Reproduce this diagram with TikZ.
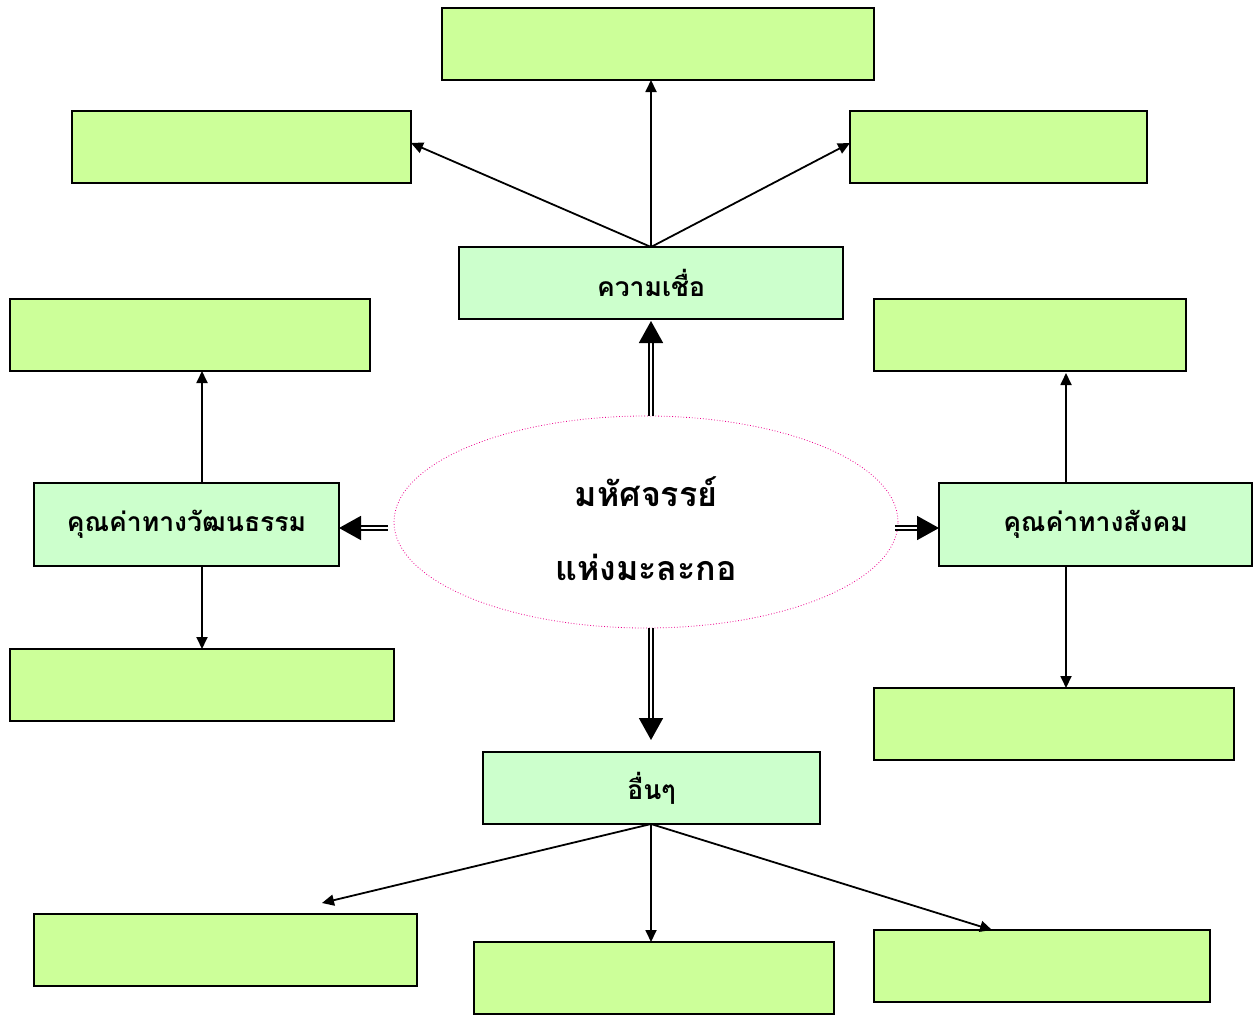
\documentclass[tikz,border=0pt]{standalone}
\usepackage{fontspec}
\usetikzlibrary{arrows.meta,shapes.geometric}
\newfontfamily\thaifont[Script=Thai]{Loma}
\definecolor{limebox}{HTML}{CCFF99}
\definecolor{mintbox}{HTML}{CCFFCC}
\tikzset{
  box/.style={draw=black, line width=1.4pt, inner sep=0pt, outer sep=0pt, minimum height=72pt},
  emptybox/.style={box, fill=limebox},
  labelbox/.style={box, fill=mintbox, font=\thaifont\bfseries\fontsize{26.5}{30}\selectfont},
  titletext/.style={font=\thaifont\bfseries\fontsize{34}{40}\selectfont, inner sep=0pt},
  arr/.style={line width=1.8pt, -{Triangle[length=12pt,width=11pt]}},
  dbl/.style={double, double distance=2pt, line width=1.7pt, -{Triangle[length=22pt,width=24pt]}},
}
\begin{document}
\begin{tikzpicture}[x=1pt,y=-1pt]
\useasboundingbox (0,0) rectangle (1258,1017);
% empty boxes
\node[emptybox, minimum width=432pt] (top) at (658,44) {};
\node[emptybox, minimum width=339pt] (tl) at (241.5,147) {};
\node[emptybox, minimum width=297pt] (tr) at (998.5,147) {};
\node[emptybox, minimum width=360pt] (lu) at (190,335) {};
\node[emptybox, minimum width=312pt] (ru) at (1030,335) {};
\node[emptybox, minimum width=384pt] (ll) at (202,685) {};
\node[emptybox, minimum width=360pt] (rl) at (1054,724) {};
\node[emptybox, minimum width=383pt] (bl) at (225.5,950) {};
\node[emptybox, minimum width=360pt] (bm) at (654,978) {};
\node[emptybox, minimum width=336pt] (br) at (1042,966) {};
% labelled boxes
\node[labelbox, minimum width=384pt] (belief) at (651,283) {ความเชื่อ};
\node[labelbox, minimum width=305pt, minimum height=83pt] (culture) at (186.5,524.5) {คุณค่าทางวัฒนธรรม};
\node[labelbox, minimum width=313pt, minimum height=83pt] (social) at (1095.5,524.5) {คุณค่าทางสังคม};
\node[labelbox, minimum width=337pt] (others) at (651.5,788) {อื่นๆ};
% ellipse
\node[ellipse, draw=magenta, dotted, line width=0.8pt, minimum width=504pt, minimum height=212pt, inner sep=0pt] (ell) at (646,522) {};
\node[titletext] (t1) at (646,492) {มหัศจรรย์};
\node[titletext] (t2) at (646,567) {แห่งมะละกอ};
% double arrows
\draw[dbl] ([xshift=5pt]ell.north) -- ([yshift=-2pt]belief.south);
\draw[dbl] ([shift={(-6pt,-6pt)}]ell.west) -- ([yshift=-3.5pt]culture.east);
\draw[dbl] ([shift={(-3pt,-6pt)}]ell.east) -- ([yshift=-3.5pt]social.west);
\draw[dbl] ([xshift=5pt]ell.south) -- ([shift={(-0.5pt,12pt)}]others.north);
% single arrows
\draw[arr] (belief.north) -- ([yshift=4pt]tl.east);
\draw[arr] (belief.north) -- (belief.north |- top.south);
\draw[arr] (belief.north) -- ([yshift=4pt]tr.west);
\draw[arr] ([xshift=15.5pt]culture.north) -- ([xshift=12pt]lu.south);
\draw[arr] ([xshift=15.5pt]culture.south) -- (ll.north);
\draw[arr] ([xshift=-29.5pt]social.north) -- ([shift={(36pt,-2pt)}]ru.south);
\draw[arr] ([xshift=-29.5pt]social.south) -- ([xshift=12pt]rl.north);
\coordinate (ofrom) at ([xshift=-0.5pt]others.south);
\coordinate (blend) at (322,903);
\draw[arr] (ofrom) -- (blend);
\draw[arr] (ofrom) -- (ofrom |- bm.north);
\draw[arr] (ofrom) -- ([xshift=-50pt]br.north);
\end{tikzpicture}
\end{document}
